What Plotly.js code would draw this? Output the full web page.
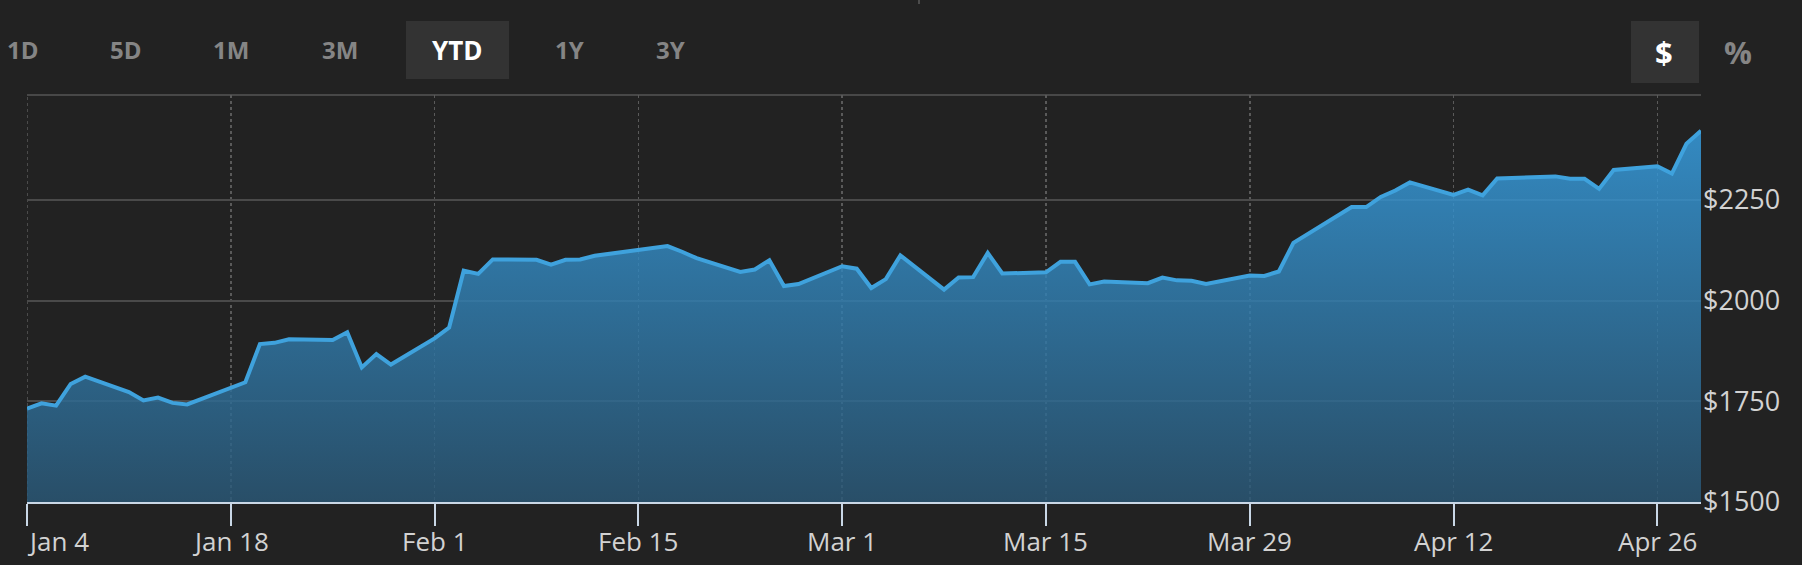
<!DOCTYPE html>
<html>
<head>
<meta charset="utf-8">
<script src="https://cdn.plot.ly/plotly-3.0.1.min.js"></script>
<style>
  html, body { margin: 0; padding: 0; background: #222222; }
  #chart { width: 1802px; height: 565px; }
</style>
</head>
<body>
<div id="chart"></div>
<script>
// ---- Data ----
const dates = [
  '2021-01-04','2021-01-05','2021-01-06','2021-01-07','2021-01-08',
  '2021-01-11','2021-01-12','2021-01-13','2021-01-14','2021-01-15',
  '2021-01-19','2021-01-20','2021-01-21','2021-01-22',
  '2021-01-25','2021-01-26','2021-01-27','2021-01-28','2021-01-29',
  '2021-02-01','2021-02-02','2021-02-03','2021-02-04','2021-02-05',
  '2021-02-08','2021-02-09','2021-02-10','2021-02-11','2021-02-12',
  '2021-02-16','2021-02-17','2021-02-18','2021-02-19',
  '2021-02-22','2021-02-23','2021-02-24','2021-02-25','2021-02-26',
  '2021-03-01','2021-03-02','2021-03-03','2021-03-04','2021-03-05',
  '2021-03-08','2021-03-09','2021-03-10','2021-03-11','2021-03-12',
  '2021-03-15','2021-03-16','2021-03-17','2021-03-18','2021-03-19',
  '2021-03-22','2021-03-23','2021-03-24','2021-03-25','2021-03-26',
  '2021-03-29','2021-03-30','2021-03-31','2021-04-01',
  '2021-04-05','2021-04-06','2021-04-07','2021-04-08','2021-04-09',
  '2021-04-12','2021-04-13','2021-04-14','2021-04-15','2021-04-16',
  '2021-04-19','2021-04-20','2021-04-21','2021-04-22','2021-04-23',
  '2021-04-26','2021-04-27','2021-04-28','2021-04-29'
];
const values = [
  1732, 1745, 1739, 1793, 1811,
  1773, 1752, 1759, 1746, 1742,
  1797, 1892, 1895, 1904,
  1902, 1921, 1834, 1867, 1841,
  1906, 1933, 2074, 2066, 2102,
  2101, 2089, 2101, 2102, 2111,
  2130, 2135, 2121, 2105,
  2071, 2077, 2100, 2036, 2041,
  2085, 2079, 2031, 2053, 2112,
  2027, 2057, 2058, 2118, 2067,
  2070, 2096, 2096, 2040, 2047,
  2043, 2057, 2050, 2049, 2041,
  2062, 2061, 2072, 2143,
  2232, 2232, 2257, 2273, 2293,
  2262, 2275, 2261, 2303, 2304,
  2308, 2302, 2302, 2277, 2324,
  2333, 2315, 2389, 2421
];
const xTickDates = ['2021-01-04','2021-01-18','2021-02-01','2021-02-15','2021-03-01',
                    '2021-03-15','2021-03-29','2021-04-12','2021-04-26'];
const xTickLabels = ['Jan 4','Jan 18','Feb 1','Feb 15','Mar 1','Mar 15','Mar 29','Apr 12','Apr 26'];
const yTickValues = [1500, 1750, 2000, 2250];
const yTickLabels = ['$1500','$1750','$2000','$2250'];
const rangeButtons = ['1D','5D','1M','3M','YTD','1Y','3Y'];
const activeRange = 'YTD';
const unitButtons = ['$','%'];
const activeUnit = '$';

// ---- Layout geometry (pixels) ----
const W = 1802, H = 565;
const PL = 27, PR = 1701, PT = 95, PB = 502;
const px2x = p => (p - PL) / (PR - PL);
const py2y = p => (PB - p) / (PB - PT);

const FONT = '"Open Sans", "Noto Sans", sans-serif';
const GRAY = '#858585';
const LABEL = '#d2d2d2';
const XFONT = 26, YFONT = 27;

const rangeCenters = [23, 126, 231, 340, 457, 569, 670];
const unitCenters = [1664, 1738];

const shapes = [];
const annotations = [];

// top border line
shapes.push({type:'line', xref:'paper', yref:'paper', x0:0, x1:1, y0:1, y1:1,
  line:{color:'#484848', width:2}, layer:'below'});
// dotted gridline at the left edge (first tick)
shapes.push({type:'line', xref:'x', yref:'paper', x0:xTickDates[0], x1:xTickDates[0],
  y0:0, y1:1, line:{color:'#5a5a5a', width:1.5, dash:'dot'}, layer:'below'});
// tiny mark at very top
shapes.push({type:'line', xref:'paper', yref:'paper', x0:px2x(919), x1:px2x(919),
  y0:py2y(0), y1:py2y(4), line:{color:'#777', width:1}});

// x tick labels (first one is left-aligned at its tick, as in the reference)
xTickDates.forEach((d, i) => {
  annotations.push({xref:'x', yref:'paper', x:d, y:py2y(541),
    xanchor: i === 0 ? 'left' : 'center', yanchor:'middle', xshift: i === 0 ? -2 : 0,
    showarrow:false, text:xTickLabels[i],
    font:{family:FONT, size:XFONT, color:LABEL}});
});

rangeButtons.forEach((b, i) => {
  const active = b === activeRange;
  if (active) {
    shapes.push({type:'rect', xref:'paper', yref:'paper',
      x0:px2x(406), x1:px2x(509), y0:py2y(79), y1:py2y(21),
      fillcolor:'#333333', line:{width:0}});
  }
  annotations.push({xref:'paper', yref:'paper', x:px2x(rangeCenters[i]), y:py2y(50),
    xanchor:'center', yanchor:'middle', showarrow:false, text:'<b>'+b+'</b>',
    font:{family:FONT, size: active ? 26 : 24, color: active ? '#ffffff' : GRAY}});
});
unitButtons.forEach((b, i) => {
  const active = b === activeUnit;
  if (active) {
    shapes.push({type:'rect', xref:'paper', yref:'paper',
      x0:px2x(1631), x1:px2x(1699), y0:py2y(83), y1:py2y(21),
      fillcolor:'#333333', line:{width:0}});
  }
  annotations.push({xref:'paper', yref:'paper', x:px2x(unitCenters[i]), y:py2y(52),
    xanchor:'center', yanchor:'middle', showarrow:false, text:'<b>'+b+'</b>',
    font:{family:FONT, size:31, color: active ? '#ffffff' : GRAY}});
});

const trace = {
  type:'scatter', mode:'lines', x:dates, y:values,
  line:{color:'#3fa2dd', width:4},
  fill:'tozeroy',
  fillgradient:{type:'vertical', start:1500, stop:2420,
    colorscale:[[0,'rgba(42,88,119,0.82)'],[1,'rgba(55,160,228,0.82)']]},
  hoverinfo:'skip'
};

const layout = {
  width:W, height:H,
  paper_bgcolor:'#222222', plot_bgcolor:'#222222',
  margin:{l:PL, r:W-PR, t:PT, b:H-PB, pad:0},
  showlegend:false,
  font:{family:FONT, color:LABEL},
  xaxis:{
    type:'date', range:['2021-01-04','2021-04-29'],
    tickmode:'array', tickvals:xTickDates, showticklabels:false,
    showgrid:true, gridcolor:'#5a5a5a', griddash:'dot', gridwidth:1.5,
    showline:true, linecolor:'#c9d7e6', linewidth:2,
    ticks:'outside', ticklen:22, tickwidth:2, tickcolor:'#c9d7e6',
    zeroline:false, fixedrange:true
  },
  yaxis:{
    range:[1500, 2510], side:'right',
    tickmode:'array', tickvals:yTickValues, ticktext:yTickLabels,
    showgrid:true, gridcolor:'#4a4a4a', gridwidth:2,
    showline:false, ticks:'', ticklabelstandoff:1,
    tickfont:{family:FONT, size:YFONT, color:LABEL},
    zeroline:false, fixedrange:true
  },
  shapes:shapes,
  annotations:annotations
};

Plotly.newPlot('chart', [trace], layout, {staticPlot:true, displayModeBar:false});
</script>
</body>
</html>
